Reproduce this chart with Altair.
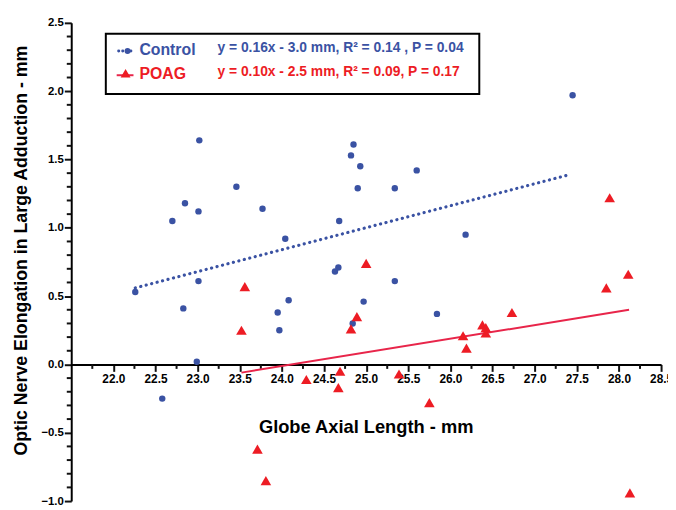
import altair as alt
import pandas as pd

# ---------------- data ----------------
control_x = [22.26, 22.58, 22.70, 22.83, 22.85, 22.99, 23.01, 23.01, 23.02, 23.46,
             23.77, 23.95, 23.97, 24.04, 24.08, 24.63, 24.67, 24.68, 24.82, 24.84,
             24.85, 24.90, 24.93, 24.97, 25.34, 25.34, 25.60, 25.84, 26.18, 27.45]
control_y = [0.53, -0.25, 1.05, 0.41, 1.18, 0.02, 0.61, 1.12, 1.64, 1.30,
             1.14, 0.38, 0.25, 0.92, 0.47, 0.68, 0.71, 1.05, 1.53, 0.30,
             1.61, 1.29, 1.45, 0.46, 1.29, 0.61, 1.42, 0.37, 0.95, 1.97]

poag_x = [23.52, 23.56, 23.71, 23.81, 24.29, 24.67, 24.69, 24.82, 24.89, 25.00, 25.39,
          25.75, 26.15, 26.19, 26.38, 26.42, 26.42, 26.73, 27.85, 27.89, 28.11, 28.13]
poag_y = [0.25, 0.57, -0.62, -0.85, -0.11, -0.17, -0.05, 0.26, 0.35, 0.74, -0.07,
          -0.28, 0.21, 0.12, 0.29, 0.27, 0.23, 0.38, 0.56, 1.22, 0.66, -0.94]

control_fit_x = [22.26, 27.42]
control_fit_y = [0.56, 1.39]
poag_fit_x = [23.52, 28.12]
poag_fit_y = [-0.06, 0.40]

x_label_values = [22.0, 22.5, 23.0, 23.5, 24.0, 24.5, 25.0, 25.5, 26.0, 26.5,
                  27.0, 27.5, 28.0, 28.5]
x_minor_values = [21.75, 22.25, 22.75, 23.25, 23.75, 24.25, 24.75, 25.25, 25.75,
                  26.25, 26.75, 27.25, 27.75, 28.25]
y_label_values = [-1.0, -0.5, 0.0, 0.5, 1.0, 1.5, 2.0, 2.5]
y_minor_values = [-0.9, -0.8, -0.7, -0.6, -0.4, -0.3, -0.2, -0.1,
                  0.1, 0.2, 0.3, 0.4, 0.6, 0.7, 0.8, 0.9,
                  1.1, 1.2, 1.3, 1.4, 1.6, 1.7, 1.8, 1.9,
                  2.1, 2.2, 2.3, 2.4]

legend_control = "Control"
legend_poag = "POAG"
eq_control = "y = 0.16x - 3.0 mm, R² = 0.14 , P = 0.04"
eq_poag = "y = 0.10x - 2.5 mm, R² = 0.09,  P = 0.17"

# ---------------- styling ----------------
FONT = "Liberation Sans"
BLUE = "#3a52a3"
RED = "#ed1c24"
LINE_RED = "#e8254a"
W, H = 597, 484
X_DOM = [21.5, 28.5]
Y_DOM = [-1.0, 2.5]
x_axis_offset = -(H * (0 - Y_DOM[0]) / (Y_DOM[1] - Y_DOM[0]))
x_zero_px = H * Y_DOM[1] / (Y_DOM[1] - Y_DOM[0])

xs = alt.Scale(domain=X_DOM, nice=False, zero=False)
ys = alt.Scale(domain=Y_DOM, nice=False, zero=False)

ctrl_df = pd.DataFrame({"x": control_x, "y": control_y})
poag_df = pd.DataFrame({"x": poag_x, "y": poag_y})
cfit_df = pd.DataFrame({"x": control_fit_x, "y": control_fit_y})
pfit_df = pd.DataFrame({"x": poag_fit_x, "y": poag_fit_y})
xt_df = pd.DataFrame({"x": x_minor_values})
yt_df = pd.DataFrame({"y": y_minor_values})
one_df = pd.DataFrame({"k": [0]})

x_axis = alt.Axis(
    orient="bottom", offset=x_axis_offset, values=x_label_values, format=".1f",
    ticks=True, tickSize=7, tickWidth=2, tickColor="#111111",
    grid=False, domainColor="black", domainWidth=2,
    labelFont=FONT, labelFontWeight="bold", labelFontSize=12, labelColor="black",
    labelPadding=2, labelFlush=False, labelOverlap=False,
    title="Globe Axial Length - mm", titleFont=FONT, titleFontWeight="bold",
    titleFontSize=18.5, titleColor="black", titleX=298, titleY=69,
    titleAlign="center", titleBaseline="alphabetic",
)
y_axis = alt.Axis(
    orient="left", values=y_label_values, format=".1f", grid=False,
    ticks=True, tickSize=7, tickWidth=2, tickColor="#111111",
    domainColor="black", domainWidth=2,
    labelFont=FONT, labelFontWeight="bold", labelFontSize=11.5, labelColor="black",
    labelPadding=1, labelFlush=False, labelOverlap=False,
    title="Optic Nerve Elongation in Large Adduction - mm", titleFont=FONT,
    titleFontWeight="bold", titleFontSize=18, titleColor="black",
    titleAngle=270, titleX=-45, titleY=230, titleAlign="center",
    titleBaseline="alphabetic",
)

def X(field="x"):
    return alt.X(f"{field}:Q", scale=xs, axis=x_axis)

def Y(field="y"):
    return alt.Y(f"{field}:Q", scale=ys, axis=y_axis)

ctrl_pts = alt.Chart(ctrl_df).mark_point(
    shape="circle", filled=True, size=42, color=BLUE, opacity=1
).encode(x=X(), y=Y())

poag_pts = alt.Chart(poag_df).mark_point(
    shape="triangle-up", filled=True, size=115, color=RED, opacity=1
).encode(x=X(), y=Y())

cfit = alt.Chart(cfit_df).mark_line(
    color=BLUE, strokeWidth=3.2, strokeDash=[0.1, 5.6], strokeCap="round"
).encode(x=X(), y=Y())

pfit = alt.Chart(pfit_df).mark_line(color=LINE_RED, strokeWidth=2).encode(x=X(), y=Y())

# minor ticks (x: below the zero line, y: left of the axis)
xt = alt.Chart(xt_df).mark_rule(color="#111111", strokeWidth=2).encode(
    x=X(), y=alt.value(x_zero_px), y2=alt.value(x_zero_px + 4.5)
)
yt = alt.Chart(yt_df).mark_tick(
    color="#111111", orient="horizontal", size=4.5, thickness=2, opacity=1
).encode(y=Y(), x=alt.value(-2.25))

# ---------------- legend box (annotation) ----------------
box = alt.Chart(one_df).mark_rect(fill="white", stroke="black", strokeWidth=2).encode(
    x=alt.value(35), x2=alt.value(413), y=alt.value(11), y2=alt.value(72)
)
leg_dots = alt.Chart(one_df).mark_rule(
    color=BLUE, strokeWidth=3, strokeDash=[0.1, 4], strokeCap="round"
).encode(x=alt.value(48), x2=alt.value(64), y=alt.value(28.5))
leg_circ = alt.Chart(one_df).mark_point(
    shape="circle", filled=True, size=36, color=BLUE, opacity=1
).encode(x=alt.value(57), y=alt.value(28.5))
leg_rline = alt.Chart(one_df).mark_rule(color=LINE_RED, strokeWidth=2).encode(
    x=alt.value(46), x2=alt.value(63), y=alt.value(53)
)
leg_tri = alt.Chart(one_df).mark_point(
    shape="triangle-up", filled=True, size=100, color=RED, opacity=1
).encode(x=alt.value(55), y=alt.value(51))

def txt(s, x, y, color, size):
    return alt.Chart(one_df).mark_text(
        text=s, font=FONT, fontWeight="bold", fontSize=size, color=color,
        align="left", baseline="alphabetic"
    ).encode(x=alt.value(x), y=alt.value(y))

t1 = txt(legend_control, 69, 32.3, BLUE, 16)
t2 = txt(legend_poag, 69, 56.7, RED, 16)
t3 = txt(eq_control, 148, 29.5, BLUE, 14)
t4 = txt(eq_poag, 148, 53.3, RED, 14)

chart = alt.layer(
    ctrl_pts, xt, yt, pfit, cfit, poag_pts,
    box, leg_dots, leg_circ, leg_rline, leg_tri, t1, t2, t3, t4,
).properties(
    width=W, height=H,
    autosize=alt.AutoSizeParams(type="none"),
    padding={"left": 64, "top": 12, "right": 7, "bottom": 6},
).configure_view(stroke=None)

chart.save("out.html", embed_options={"renderer": "svg", "actions": False})
